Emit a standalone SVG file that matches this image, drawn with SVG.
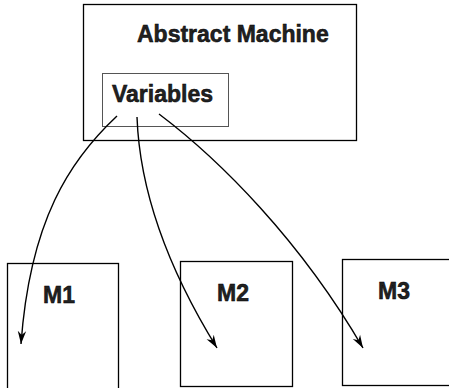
<svg xmlns="http://www.w3.org/2000/svg" width="449" height="388" viewBox="0 0 449 388">
  <style>
    .box { fill: #fff; stroke: #000; stroke-width: 1.3; }
    .inner { fill: #fff; stroke: #555; stroke-width: 1; }
    .label { font-family: "Liberation Sans", Arial, sans-serif; font-size: 23px; font-weight: bold; fill: #222; stroke: #000; stroke-width: 0.5; }
    .link { fill: none; stroke: #000; stroke-width: 1.4; marker-end: url(#head); }
  </style>
  <defs>
    <marker id="head" viewBox="0 0 14 10" refX="13" refY="5" markerWidth="14" markerHeight="10" markerUnits="userSpaceOnUse" orient="auto">
      <path d="M0,0.8 L13,5 L0,9.2 L4,5 Z" fill="#000"/>
    </marker>
  </defs>

  <g id="abstract-machine">
    <rect class="box" x="83.5" y="4.5" width="273" height="136"/>
    <text class="label" x="137" y="42">Abstract Machine</text>
  </g>

  <g id="variables">
    <rect class="inner" x="102.5" y="73.5" width="126" height="53"/>
    <text class="label" x="112" y="102">Variables</text>
  </g>

  <g id="m1">
    <rect class="box" x="7.5" y="263.5" width="111" height="130"/>
    <text class="label" x="43" y="303">M1</text>
  </g>

  <g id="m2">
    <rect class="box" x="180.5" y="261.5" width="112" height="125"/>
    <text class="label" x="217" y="301">M2</text>
  </g>

  <g id="m3">
    <rect class="box" x="342.5" y="259.5" width="110" height="126"/>
    <text class="label" x="378" y="299">M3</text>
  </g>

  <g id="connectors">
    <path class="link" d="M117,116 C70,160 30,220 21,344"/>
    <path class="link" d="M137,117 C140,200 175,280 217,348"/>
    <path class="link" d="M159,114 C220,160 300,240 363,348"/>
  </g>
</svg>
